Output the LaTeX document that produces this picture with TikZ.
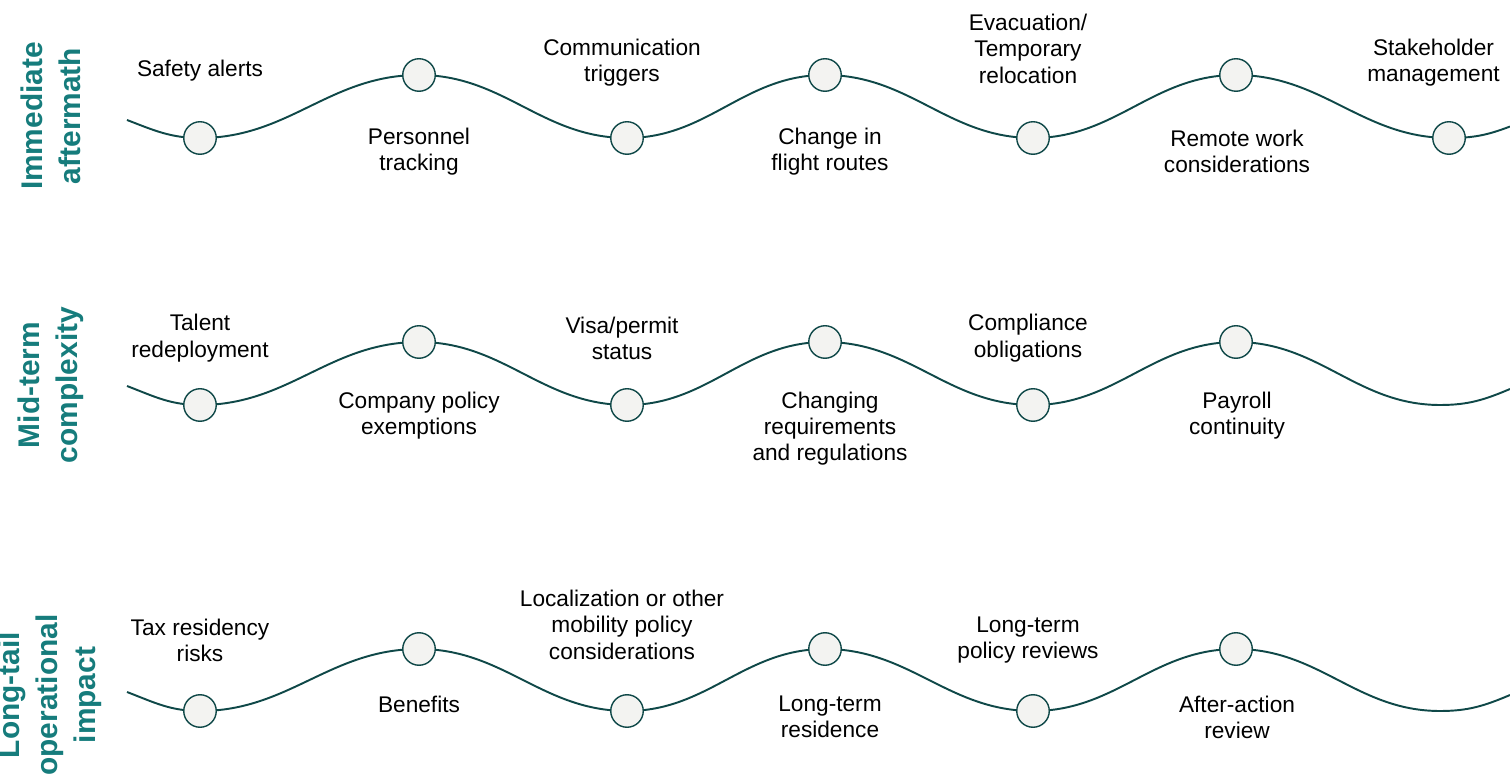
\documentclass[tikz,border=0pt]{standalone}
\usepackage{fontspec, tkz-euclide}
\setmainfont{Liberation Sans}

\definecolor{stagecol}{HTML}{167C7C}
\definecolor{wavecol}{HTML}{0F4848}
\definecolor{dotfill}{HTML}{F3F3F1}

\tikzset{
    wave/.style = {draw=wavecol, line width=1.1pt},
    item/.style = {font=\fontsize{12.9}{15}\selectfont, align=center, yshift=-1.2pt},
    stage/.style = {font=\fontsize{17}{21.5}\selectfont\bfseries, text=stagecol, align=center, rotate=90}
}

\begin{document}
\begin{tikzpicture}
    \useasboundingbox (0,0) rectangle (30.2,15.5);
    \clip (0,0) rectangle (30.2,15.5);
    % immediate aftermath
    \tkzDefPoints{2.54/13.1/S1, 4/12.74/A1, 8.38/14/B1, 12.54/12.74/C1, 16.5/14/D1, 20.66/12.74/E1, 24.72/14/F1, 28.98/12.74/G1, 30.2/12.97/H1}
    \draw [wave, out=0, in=180](S1) to[out=-21] (A1) to (B1) to (C1) to (D1) to (E1) to (F1) to (G1) to[in=201] (H1);
    \tkzDrawPoints[size=18.5, color=wavecol, fill=dotfill, line width=0.8pt](A1,B1,C1,D1,E1,F1,G1)
    % mid-term complexity
    \tkzDefPoints{2.54/7.78/S2, 4/7.4/A2, 8.38/8.66/B2, 12.54/7.4/C2, 16.5/8.66/D2, 20.66/7.4/E2, 24.72/8.66/F2, 28.8/7.4/G2, 30.2/7.72/H2}
    \draw [wave, out=0, in=180](S2) to[out=-21] (A2) to (B2) to (C2) to (D2) to (E2) to (F2) to (G2) to[in=203] (H2);
    \tkzDrawPoints[size=18.5, color=wavecol, fill=dotfill, line width=0.8pt](A2,B2,C2,D2,E2,F2)
    % long-tail operational impact
    \tkzDefPoints{2.54/1.66/S3, 4/1.28/A3, 8.38/2.52/B3, 12.54/1.28/C3, 16.5/2.52/D3, 20.66/1.28/E3, 24.72/2.52/F3, 28.8/1.28/G3, 30.2/1.6/H3}
    \draw [wave, out=0, in=180](S3) to[out=-21] (A3) to (B3) to (C3) to (D3) to (E3) to (F3) to (G3) to[in=203] (H3);
    \tkzDrawPoints[size=18.5, color=wavecol, fill=dotfill, line width=0.8pt](A3,B3,C3,D3,E3,F3)

    \node [stage](immediate) at (1.02,13.18) {Immediate\\aftermath};
    \node [stage](midterm) at (1.02,7.8) {Mid-term\\complexity};
    \node [stage](longtail) at (1.0,1.6) {Long-tail\\operational\\impact};

    \node [item](safety) at (4,14.12) {Safety alerts};
    \node [item](personnel) at (8.38,12.51) {Personnel\\tracking};
    \node [item](comms) at (12.44,14.29) {Communication\\triggers};
    \node [item](routes) at (16.6,12.51) {Change in\\flight routes};
    \node [item](evac) at (20.56,14.57) {Evacuation/\\Temporary\\relocation};
    \node [item](remote) at (24.74,12.51) {Remote work\\considerations};
    \node [item](stake) at (28.67,14.29) {Stakeholder\\management};

    \node [item](talent) at (4,8.78) {Talent\\redeployment};
    \node [item](exempt) at (8.38,7.23) {Company policy\\exemptions};
    \node [item](visa) at (12.44,8.78) {Visa/permit\\status};
    \node [item](regs) at (16.6,6.97) {Changing\\requirements\\and regulations};
    \node [item](comply) at (20.56,8.78) {Compliance\\obligations};
    \node [item](payroll) at (24.74,7.23) {Payroll\\continuity};

    \node [item](tax) at (4,2.74) {Tax residency\\risks};
    \node [item](benefits) at (8.38,1.46) {Benefits};
    \node [item](local) at (12.44,3.05) {Localization or other\\mobility policy\\considerations};
    \node [item](residence) at (16.6,1.2) {Long-term\\residence};
    \node [item](reviews) at (20.56,2.74) {Long-term\\policy reviews};
    \node [item](afteraction) at (24.74,1.2) {After-action\\review};
\end{tikzpicture}
\end{document}
